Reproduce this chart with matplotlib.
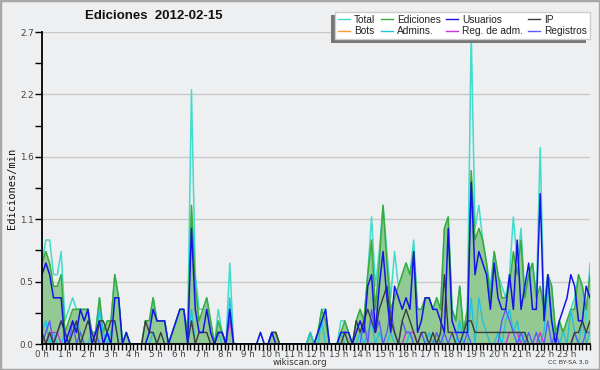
import numpy as np
import matplotlib
matplotlib.use("Agg")
import matplotlib.pyplot as plt
from matplotlib.lines import Line2D
from matplotlib.patches import Rectangle
import matplotlib.transforms as mtransforms

# ---- data: edits per minute, 10-minute bins (6 per hour) ----
total = [
    .7, .9, .9, .6, .6, .8,   .2, .3, .4, .3, .3, .3,   .3, .1, .1, .4, .1, .2,
    .2, .6, .4, 0, .1, 0,     0, 0, 0, .2, .2, .4,      .2, .2, .2, 0, .1, .2,
    .3, .3, .1, 2.2, .6, .3,  .3, .4, .2, 0, .3, .1,    0, .7, 0, 0, 0, 0,
    0, 0, 0, .1, 0, 0,        .1, .1, 0, 0, 0, 0,       0, 0, 0, 0, .1, 0,
    .1, .3, .3, 0, 0, 0,      .2, .2, .1, 0, .2, .3,    .2, .6, 1.1, .5, .8, 1.2,
    .8, .4, .8, .5, .6, .7,   .6, .9, .3, .3, .4, .4,   .3, .4, .3, 1.0, 1.1, .3,
    .2, .5, .1, .3, 2.7, 1.0, 1.2, .9, .7, .5, .8, .6,  .5, .4, .6, 1.1, .7, 1.0,
    .4, .6, .7, .4, 1.7, .3,  .6, .5, .1, .2, .1, .2,   .3, .4, .6, .5, .2, .7,
]
ediciones = [
    .7, .8, .7, .5, .5, .6,   .1, .2, .3, .3, .3, .3,   .3, .1, .1, .4, .1, .2,
    .2, .6, .4, 0, .1, 0,     0, 0, 0, .2, .2, .4,      .2, .2, .2, 0, .1, .2,
    .3, .3, .1, 1.2, .5, .2,  .3, .4, .2, 0, .2, .1,    0, .3, 0, 0, 0, 0,
    0, 0, 0, 0, 0, 0,         .1, .1, 0, 0, 0, 0,       0, 0, 0, 0, .1, 0,
    .1, .3, .2, 0, 0, 0,      .1, .2, .1, 0, .2, .3,    .2, .6, .9, .3, .7, 1.2,
    .7, .3, .4, .5, .6, .7,   .6, .8, .3, .3, .4, .4,   .3, .4, .3, 1.0, 1.1, .3,
    .2, .5, .1, .3, 1.5, .9,  1.0, .9, .7, .4, .8, .6,  .4, .4, .5, .8, .6, .9,
    .4, .6, .7, .4, .5, .3,   .6, .5, .1, .2, .1, .2,   .3, .3, .6, .5, .3, .6,
]
usuarios = [
    .6, .7, .6, .4, .4, .4,   0, .1, .2, .1, .3, .2,    .3, 0, .1, .2, 0, .1,
    0, .4, .4, 0, .1, 0,      0, 0, 0, 0, .1, .3,       .2, .2, .2, 0, .1, .2,
    .3, .3, 0, 1.0, .3, .1,   .1, .3, .1, 0, .1, .1,    0, .3, 0, 0, 0, 0,
    0, 0, 0, .1, 0, 0,        .1, 0, 0, 0, 0, 0,        0, 0, 0, 0, 0, 0,
    .1, .2, .3, 0, 0, 0,      .1, .1, .1, 0, .1, .2,    .1, .5, .6, .1, .5, .8,
    .4, .1, .5, .4, .3, .4,   .3, .8, .1, .2, .4, .4,   .3, .3, .2, .1, 1.0, .2,
    .1, .1, .1, .1, 1.4, .6,  .8, .7, .6, .3, .7, .4,   .3, .3, .6, .3, .9, .3,
    .5, .7, .3, .3, 1.3, .2,  .6, .2, 0, .2, .3, .4,    .6, .5, .2, .2, .5, .4,
]
ip = [
    .1, 0, .1, 0, .1, .2,     .1, 0, .1, .2, 0, .1,     .2, .1, 0, .2, .2, .1,
    .2, .2, 0, 0, 0, 0,       0, 0, 0, .2, .1, .1,      0, .1, 0, 0, 0, 0,
    0, 0, 0, .2, 0, .1,       .1, .1, 0, 0, .1, .1,     0, 0, 0, 0, 0, 0,
    0, 0, 0, 0, 0, 0,         .1, .1, 0, 0, 0, 0,       0, 0, 0, 0, 0, 0,
    0, 0, 0, 0, 0, 0,         0, .1, 0, 0, .2, .1,      .2, .3, .2, .1, .3, .4,
    .5, .2, .1, 0, .2, .3,    .2, .1, 0, .1, .1, 0,     .1, 0, .1, .6, .1, .1,
    0, 0, .1, .2, .2, .1,     .1, .1, .1, .1, .1, .1,   .1, .1, .1, .1, .1, .1,
    .1, 0, 0, 0, 0, 0,        0, 0, 0, 0, 0, 0,         0, .1, .1, .2, .1, .2,
]
bots = [0] * 144
admins = [
    .1, .2, 0, .1, 0, 0,      .1, 0, .1, .2, .1, 0,     0, .1, 0, .3, .1, 0,
    .1, .2, 0, 0, 0, 0,       0, 0, 0, 0, 0, .1,        0, 0, 0, 0, 0, 0,
    0, 0, 0, .3, 0, 0,        0, 0, 0, 0, .1, 0,        0, .4, 0, 0, 0, 0,
    0, 0, 0, 0, 0, 0,         0, 0, 0, 0, 0, 0,         0, 0, 0, 0, .1, 0,
    0, .2, 0, 0, 0, 0,        .1, 0, 0, 0, 0, .1,       0, .1, .2, 0, .1, 0,
    0, .1, 0, 0, 0, 0,        .1, 0, 0, 0, 0, .1,       0, 0, .1, 0, 0, 0,
    0, .2, 0, 0, .4, 0,       .4, .2, .1, 0, 0, .1,     0, .2, .3, .1, .2, 0,
    .1, 0, 0, 0, 0, .1,       .5, .2, 0, 0, .1, 0,      .3, .1, 0, .2, 0, .1,
]
reg_adm = [
    0, 0, .1, .1, .1, 0,      0, 0, 0, 0, 0, 0,         0, 0, 0, 0, 0, 0,
    0, 0, 0, 0, 0, 0,         0, 0, 0, 0, 0, 0,         0, 0, 0, 0, 0, 0,
    0, 0, 0, 0, 0, 0,         0, 0, 0, 0, 0, 0,         0, .2, 0, 0, 0, 0,
    0, 0, 0, 0, 0, 0,         0, 0, 0, 0, 0, 0,         0, 0, 0, 0, 0, 0,
    0, 0, 0, 0, 0, 0,         0, 0, 0, 0, 0, 0,         0, 0, 0, 0, 0, 0,
    0, 0, 0, 0, 0, .1,        .1, .1, 0, 0, 0, 0,       0, 0, 0, 0, 0, 0,
    0, 0, 0, 0, 0, 0,         0, 0, 0, 0, 0, 0,         0, 0, .1, .1, .1, 0,
    0, 0, 0, 0, .1, 0,        0, 0, 0, 0, 0, 0,         0, 0, 0, 0, 0, 0,
]
registros = [
    0, .1, .2, 0, .1, .2,     .1, 0, .2, 0, .1, 0,      0, 0, .1, 0, 0, .1,
    0, 0, 0, 0, 0, 0,         0, 0, 0, 0, 0, 0,         0, 0, 0, 0, 0, 0,
    0, 0, 0, 0, 0, 0,         0, 0, 0, 0, 0, 0,         0, 0, 0, 0, 0, 0,
    0, 0, 0, 0, 0, 0,         0, 0, 0, 0, 0, 0,         0, 0, 0, 0, 0, 0,
    0, 0, 0, 0, 0, 0,         0, 0, 0, 0, 0, 0,         .2, 0, .3, .1, .2, 0,
    .1, .3, .1, 0, .2, .1,    .1, 0, 0, .1, 0, 0,       0, .1, 0, .1, 0, .1,
    .1, 0, 0, .1, 0, 0,       0, 0, 0, 0, 0, 0,         .2, .3, .2, .1, 0, .1,
    0, .1, 0, .1, 0, 0,       .2, 0, .1, 0, 0, 0,       0, .1, 0, 0, .1, .1,
]
hour_labels = [f"{h} h" for h in range(24)]
legend_labels = ["Total", "Ediciones", "Usuarios", "IP",
                 "Bots", "Admins.", "Reg. de adm.", "Registros"]
title = "Ediciones  2012-02-15"
ylabel = "Ediciones/min"
ymax = 2.7

# ---- style ----
bg = "#eeeff1"
colors = {
    "Total": "#40dccc", "Ediciones": "#3aaa3a", "Usuarios": "#1414e8", "IP": "#3c3c3c",
    "Bots": "#ff9933", "Admins.": "#22c4dc", "Reg. de adm.": "#cc33dd", "Registros": "#5a5aff",
}

x = np.linspace(0, 24, len(total))

fig = plt.figure(figsize=(6.0, 3.7), dpi=100, facecolor=bg)
ax = fig.add_axes([42 / 600, 26 / 370, 548 / 600, 312 / 370])
ax.set_facecolor(bg)

ax.fill_between(x, 0, ediciones, color="#93c993", lw=0, zorder=1)
ax.plot(x, bots, color=colors["Bots"], lw=1, zorder=0.5)
ax.plot(x, total, color=colors["Total"], lw=1.1, zorder=2)
ax.plot(x, ediciones, color=colors["Ediciones"], lw=1.1, zorder=2.5)
ax.plot(x, admins, color=colors["Admins."], lw=1, zorder=3)
ax.plot(x, reg_adm, color=colors["Reg. de adm."], lw=1, zorder=3.2)
ax.plot(x, registros, color=colors["Registros"], lw=1, zorder=3.3)
ax.plot(x, ip, color=colors["IP"], lw=1, zorder=3.5)
ax.plot(x, usuarios, color=colors["Usuarios"], lw=1.1, zorder=4)

ax.set_xlim(0, 24)
ax.set_ylim(0, ymax)

# y ticks
step = ymax / 5
major = [step * k for k in range(6)]
ax.set_yticks(major)
ax.set_yticklabels([f"{v:.1f}" for v in major])
ax.set_yticks([step * k + step / 2 for k in range(5)], minor=True)
ax.yaxis.grid(True, which="major", color="#c8c8c8", lw=1)
ax.set_axisbelow(True)

# x ticks
ax.set_xticks(range(24))
ax.set_xticklabels(hour_labels)
ax.set_xticks(np.arange(0, 24.01, 1 / 6), minor=True)
offset = mtransforms.ScaledTranslation(4 / 100, 0, fig.dpi_scale_trans)
for lab in ax.get_xticklabels():
    lab.set_transform(lab.get_transform() + offset)

ax.tick_params(axis="both", which="both", direction="out", length=4, width=1,
               color="black", labelsize=6.3, labelcolor="#444444", pad=0.5)
ax.tick_params(axis="y", which="both", length=5, pad=1)

for s in ("top", "right"):
    ax.spines[s].set_visible(False)
for s in ("left", "bottom"):
    ax.spines[s].set_color("black")
    ax.spines[s].set_linewidth(1.3)
    ax.spines[s].set_zorder(10)

# texts
fig.text(154 / 600, 1 - 16 / 370, title, ha="center", va="center",
         fontsize=9.5, fontweight="bold", family="Liberation Sans", color="#111111")
fig.text(12 / 600, 1 - 188 / 370, ylabel, rotation=90, ha="center", va="center",
         fontsize=7.5, family="DejaVu Sans Mono", color="#111111")
fig.text(300 / 600, 1 - 362.5 / 370, "wikiscan.org", ha="center", va="center",
         fontsize=6.3, color="#333333")
fig.text(589 / 600, 1 - 363 / 370, "CC BY-SA 3.0", ha="right", va="center",
         fontsize=4.6, color="#333333")

# legend (row-major order: matplotlib fills columns first, so interleave rows)
ncol = 4
order = [r * ncol + c for c in range(ncol) for r in range(2)]
handles = [Line2D([0], [0], color=colors[legend_labels[k]], lw=1) for k in order]
labels = [legend_labels[k] for k in order]
lx1, ly1 = 590 / 600, 1 - 11.5 / 370
leg = fig.legend(handles, labels, ncol=ncol, loc="upper right",
                 bbox_to_anchor=(lx1, ly1), frameon=True,
                 prop={"family": "Liberation Sans", "size": 7.3},
                 fancybox=False, edgecolor="#cccccc", facecolor="white", framealpha=1,
                 handlelength=1.15, handletextpad=0.4, columnspacing=0.55,
                 labelspacing=0.15, borderpad=0.3, borderaxespad=0)
leg.set_zorder(5)
for t in leg.get_texts():
    t.set_color("#222222")

fig.canvas.draw()
bb = leg.get_window_extent().transformed(fig.transFigure.inverted())
fig.patches.append(Rectangle((bb.x0 - 4 / 600, bb.y0 - 3.5 / 370), bb.width, bb.height,
                             transform=fig.transFigure, facecolor="#777777",
                             edgecolor="none", zorder=4))

# figure border
fig.patches.append(Rectangle((0, 0), 1, 1, transform=fig.transFigure, fill=False,
                             edgecolor="#a8a8a8", lw=2.5, zorder=20))

fig.savefig("out.png", dpi=100, facecolor=bg)
